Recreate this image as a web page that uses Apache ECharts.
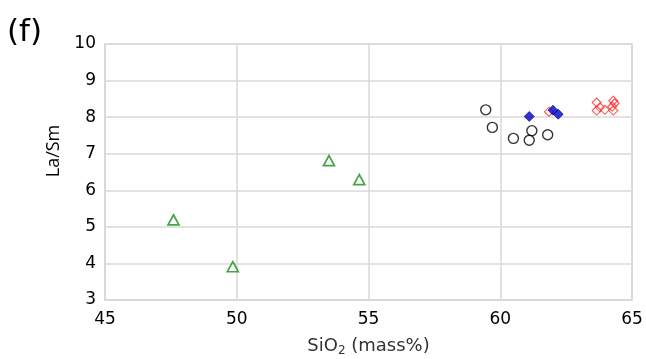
<!DOCTYPE html>
<html><head><meta charset="utf-8">
<script src="https://cdn.jsdelivr.net/npm/echarts@6/dist/echarts.min.js"></script>
<style>html,body{margin:0;padding:0;background:#fff}#c{width:646px;height:359px}</style>
</head><body><div id="c"></div>
<script>
// Green triangles
const triX = [47.6, 49.85, 53.5, 54.65];
const triY = [5.19, 3.91, 6.81, 6.29];
// Black open circles
const circX = [59.45, 59.7, 60.5, 61.2, 61.1, 61.8];
const circY = [8.2, 7.72, 7.42, 7.63, 7.37, 7.52];
// Blue filled diamonds
const blueX = [61.1, 62.0, 62.2];
const blueY = [8.02, 8.19, 8.08];
// Red open diamonds
const redX = [61.85, 63.66, 63.66, 63.78, 63.97, 64.29, 64.34, 64.25, 64.29];
const redY = [8.15, 8.40, 8.18, 8.27, 8.20, 8.45, 8.38, 8.29, 8.18];
const xTicks = [45, 50, 55, 60, 65];
const yTicks = [3, 4, 5, 6, 7, 8, 9, 10];

const pairs = (xs, ys) => xs.map((x, i) => [x, ys[i]]);
const chart = echarts.init(document.getElementById('c'));
const grid = '#d9d9d9';
chart.setOption({
  animation: false,
  grid: {left: 105, right: 14, top: 44, bottom: 59, show: true, borderColor: grid, borderWidth: 1.5,
         containLabel: false, outerBoundsMode: 'none'},
  xAxis: {
    type: 'value', min: xTicks[0], max: xTicks[xTicks.length - 1], interval: 5,
    axisLine: {show: true, lineStyle: {color: grid, width: 1.5}},
    axisTick: {show: false},
    splitLine: {show: true, lineStyle: {color: grid, width: 1.5}},
    axisLabel: {color: '#000', fontSize: 17, fontFamily: 'DejaVu Sans', margin: 11},
    name: '{a|SiO}{s|2}{a| (mass%)}', nameLocation: 'middle', nameGap: 35,
    nameTextStyle: {rich: {a: {fontSize: 18, fontFamily: 'DejaVu Sans', color: '#333'},
                           s: {fontSize: 12, fontFamily: 'DejaVu Sans', color: '#333', verticalAlign: 'bottom', padding: [10, 0, 0, 0]}}}
  },
  yAxis: {
    type: 'value', min: yTicks[0], max: yTicks[yTicks.length - 1], interval: 1,
    axisLine: {show: true, lineStyle: {color: grid, width: 1.5}},
    axisTick: {show: false},
    splitLine: {show: true, lineStyle: {color: grid, width: 1.5}},
    axisLabel: {color: '#000', fontSize: 17, fontFamily: 'DejaVu Sans', margin: 9}
  },
  graphic: [
    {type: 'text', left: 7, top: 17, style: {text: '(f)', fontSize: 31, fontFamily: 'DejaVu Sans', fill: '#000'}},
    {type: 'text', x: 54, y: 151, rotation: Math.PI / 2, style: {text: 'La/Sm', fontSize: 18, fontFamily: 'Open Sans', fill: '#000', align: 'center', verticalAlign: 'middle'}}
  ],
  series: [
    {type: 'scatter', data: pairs(triX, triY), symbol: 'triangle', symbolSize: [11, 10],
     itemStyle: {color: '#fff', borderColor: '#1a8c1a', borderWidth: 1.7}},
    {type: 'scatter', data: pairs(circX, circY), symbol: 'circle', symbolSize: 10,
     itemStyle: {color: 'rgba(255,255,255,0)', borderColor: '#000', borderWidth: 1.4}},
    {type: 'scatter', data: pairs(redX, redY), symbol: 'diamond', symbolSize: 9,
     itemStyle: {color: 'rgba(255,255,255,0)', borderColor: '#ff2a2a', borderWidth: 1.1}},
    {type: 'scatter', data: pairs(blueX, blueY), symbol: 'diamond', symbolSize: 10,
     itemStyle: {color: '#0000c8', borderColor: '#00008b', borderWidth: 0.8}}
  ]
});
</script></body></html>
